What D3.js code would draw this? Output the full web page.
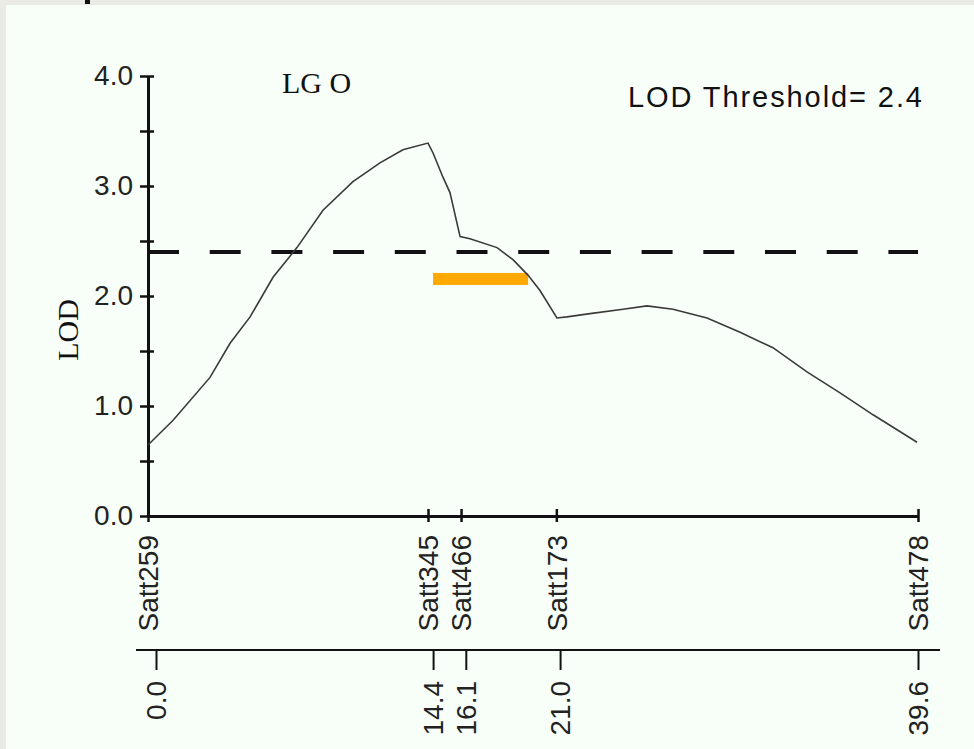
<!DOCTYPE html>
<html>
<head>
<meta charset="utf-8">
<script src="https://cdn.jsdelivr.net/npm/d3@7"></script>
<style>
  body { margin: 0; background: #f7fff8; }
  svg { display: block; }
</style>
</head>
<body>
<script>
// markers on linkage group O (cM)
const markerNames = ["Satt259", "Satt345", "Satt466", "Satt173", "Satt478"];
const markerCM = [0.0, 14.4, 16.1, 21.0, 39.6];

// LOD profile
const profileCM = [0, 1.29, 3.19, 4.22, 5.25, 6.43, 7.66, 9.0, 10.54, 11.93, 13.11, 14.4,
    14.66, 15.17, 15.53, 16.05, 16.56, 17.95, 18.77, 19.54, 20.16, 21.03, 21.55, 22.73,
    24.43, 25.66, 27.0, 28.75, 30.45, 32.14, 33.89, 35.59, 37.29, 39.55];
const profileLOD = [0.645, 0.87, 1.26, 1.57, 1.81, 2.17, 2.44, 2.78, 3.04, 3.21, 3.33, 3.39,
    3.30, 3.08, 2.94, 2.54, 2.52, 2.44, 2.33, 2.19, 2.05, 1.80, 1.81, 1.84,
    1.88, 1.91, 1.88, 1.80, 1.67, 1.53, 1.31, 1.12, 0.92, 0.67];

const yTicks = [0, 0.5, 1, 1.5, 2, 2.5, 3, 3.5, 4];
const threshold = 2.4;
// support interval bar (cM) and the LOD level it is drawn at
const intervalCM = [14.66, 19.55];
const intervalLOD = 2.155;

const width = 974, height = 749;

const svg = d3.select("body").append("svg")
    .attr("width", width)
    .attr("height", height);

// window frame bits
svg.append("rect").attr("x", 0).attr("y", 0).attr("width", width).attr("height", 5).attr("fill", "#ebebe5");
svg.append("rect").attr("x", 0).attr("y", 0).attr("width", 6).attr("height", height).attr("fill", "#ebebe5");
svg.append("rect").attr("x", 85).attr("y", 0).attr("width", 5).attr("height", 4).attr("fill", "#111");

const x = d3.scaleLinear().domain([0, 39.6]).range([148, 918]);
const y = d3.scaleLinear().domain([0, 4]).range([516, 76]);
// lower map scale is drawn a bit offset
const xb = d3.scaleLinear().domain([0, 39.6]).range([156, 918]);

const sans = "'Liberation Sans', Arial, sans-serif";
const serif = "'Liberation Serif', 'Times New Roman', serif";

// y axis
const gy = svg.append("g")
    .attr("transform", `translate(${x(0)},0)`)
    .call(d3.axisLeft(y)
        .tickValues(yTicks)
        .tickSize(8)
        .tickSizeOuter(0)
        .tickPadding(7)
        .tickFormat(d => d % 1 === 0 ? d3.format(".1f")(d) : ""));
gy.select(".domain").attr("stroke", "#111").attr("stroke-width", 3);
gy.selectAll(".tick line").attr("stroke", "#111").attr("stroke-width", 2.5);
gy.selectAll(".tick").append("line").attr("x2", 6).attr("stroke", "#111").attr("stroke-width", 2.5);
gy.selectAll(".tick text")
    .attr("font-family", sans).attr("font-size", 28).attr("fill", "#222");

// marker axis (top)
const gx = svg.append("g")
    .attr("transform", `translate(0,${y(0)})`)
    .call(d3.axisBottom(x)
        .tickValues(markerCM)
        .tickSize(6)
        .tickSizeOuter(0)
        .tickFormat((d, i) => markerNames[i]));
gx.select(".domain").attr("stroke", "#111").attr("stroke-width", 3);
gx.selectAll(".tick line").attr("stroke", "#111").attr("stroke-width", 2.5);
gx.selectAll(".tick").append("line").attr("y2", -7).attr("stroke", "#111").attr("stroke-width", 2.5);
gx.selectAll(".tick text")
    .attr("font-family", sans).attr("font-size", 28).attr("fill", "#222")
    .attr("transform", "rotate(-90)")
    .attr("text-anchor", "end")
    .attr("x", -19)
    .attr("y", 0)
    .attr("dy", "0.35em");

// cM map axis (bottom)
const mapY = 650;
svg.append("line")
    .attr("x1", xb(0) - 20).attr("x2", xb(39.6) + 22)
    .attr("y1", mapY).attr("y2", mapY)
    .attr("stroke", "#111").attr("stroke-width", 2);
const gb = svg.append("g")
    .attr("transform", `translate(0,${mapY})`)
    .call(d3.axisBottom(xb)
        .tickValues(markerCM)
        .tickSize(20)
        .tickSizeOuter(0)
        .tickFormat(d3.format(".1f")));
gb.select(".domain").remove();
gb.selectAll(".tick line").attr("stroke", "#111").attr("stroke-width", 2);
gb.selectAll(".tick text")
    .attr("font-family", sans).attr("font-size", 28).attr("fill", "#222")
    .attr("transform", "rotate(-90)")
    .attr("text-anchor", "end")
    .attr("x", -31)
    .attr("y", 0)
    .attr("dy", "0.35em");

// threshold line
svg.append("line")
    .attr("x1", x(0)).attr("x2", x(39.6))
    .attr("y1", y(threshold)).attr("y2", y(threshold))
    .attr("stroke", "#111")
    .attr("stroke-width", 4)
    .attr("stroke-dasharray", "31 30.7");

// support interval
svg.append("rect")
    .attr("x", x(intervalCM[0]))
    .attr("y", y(intervalLOD) - 6)
    .attr("width", x(intervalCM[1]) - x(intervalCM[0]))
    .attr("height", 12)
    .attr("fill", "#ffa800");

// LOD curve
const line = d3.line()
    .x((d, i) => x(profileCM[i]))
    .y(d => y(d));
svg.append("path")
    .datum(profileLOD)
    .attr("d", line)
    .attr("fill", "none")
    .attr("stroke", "#3a3a3a")
    .attr("stroke-width", 1.6);

// labels
svg.append("text")
    .attr("x", 282).attr("y", 93)
    .attr("font-family", serif).attr("font-size", 30).attr("fill", "#111")
    .text("LG O");

svg.append("text")
    .attr("transform", "translate(67,330) rotate(-90)")
    .attr("text-anchor", "middle")
    .attr("dy", "0.35em")
    .attr("font-family", serif).attr("font-size", 30).attr("fill", "#111")
    .text("LOD");

svg.append("text")
    .attr("x", 628).attr("y", 107)
    .attr("font-family", sans).attr("font-size", 29).attr("fill", "#111")
    .attr("textLength", 294)
    .attr("lengthAdjust", "spacing")
    .text("LOD Threshold= " + threshold);
</script>
</body>
</html>
